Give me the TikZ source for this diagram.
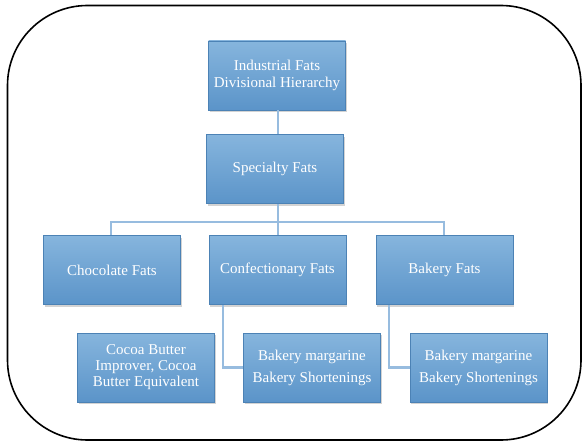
\documentclass[tikz,border=0pt]{standalone}
\usepackage{fontspec}
\setmainfont{Liberation Serif}
\usetikzlibrary{shadows}
\definecolor{boxtop}{HTML}{86B5DD}
\definecolor{boxbot}{HTML}{5B94C9}
\definecolor{boxedge}{HTML}{4C82B5}
\definecolor{conn}{HTML}{97BCDF}
\tikzset{
  orgbox/.style={rectangle, top color=boxtop, bottom color=boxbot, draw=boxedge, line width=0.6pt,
    text=white, align=center, font=\fontsize{15}{17}\selectfont,
    drop shadow={shadow xshift=1pt, shadow yshift=-2pt, opacity=0.35},
    minimum width=137pt, minimum height=69pt, inner sep=2pt},
  link/.style={draw=conn, line width=2.4pt},
}
\begin{document}
\begin{tikzpicture}[x=1pt,y=-1pt]
\useasboundingbox (0,0) rectangle (583,444);
\draw[line width=1.6pt, rounded corners=80pt] (7.5,5.5) rectangle (581,440);
\node[orgbox] (top) at (277,75.5) {Industrial Fats\\Divisional Hierarchy};
\node[orgbox] (spec) at (275,169) {Specialty Fats};
\node[orgbox] (choc) at (112,270) {Chocolate Fats};
\node[orgbox] (conf) at (277.5,270) {Confectionary Fats};
\node[orgbox] (bak) at (444.5,270) {Bakery Fats};
\node[orgbox, font=\fontsize{15}{16}\selectfont] (cocoa) at (146,367.5) {Cocoa Butter\\Improver, Cocoa\\Butter Equivalent};
\node[orgbox, font=\fontsize{15}{22}\selectfont] (bm1) at (312,367.5) {Bakery margarine\\Bakery Shortenings};
\node[orgbox, font=\fontsize{15}{22}\selectfont] (bm2) at (478.5,367.5) {Bakery margarine\\Bakery Shortenings};
\coordinate (bus) at (278,222);
\begin{scope}[on background layer/.style={}]
\draw[link] (top.south -| bus) -- (spec.north -| bus);
\draw[link] (spec.south -| bus) -- (bus);
\draw[link] (choc.north -| 111,0) |- (bus) -| (bak.north -| 444,0);
\draw[link] (bus) -- (conf.north -| bus);
\draw[link] (conf.south -| 223,0) |- (bm1.west);
\draw[link] (bak.south -| 389,0) |- (bm2.west);
\end{scope}
\end{tikzpicture}
\end{document}
